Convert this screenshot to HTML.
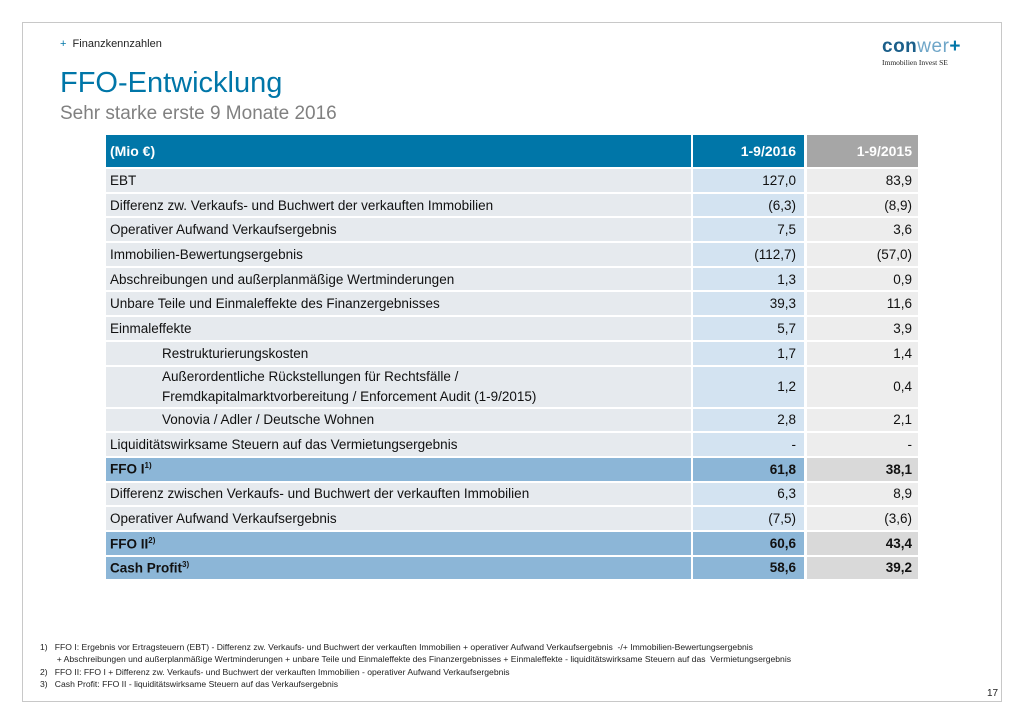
<!DOCTYPE html>
<html><head><meta charset="utf-8"><style>
body{margin:0;width:1024px;height:724px;background:#fff;font-family:"Liberation Sans",sans-serif;position:relative;overflow:hidden}
.frame{position:absolute;left:22px;top:22px;width:978px;height:678px;border:1px solid #c8c8c8}
.abs{position:absolute;white-space:nowrap}
table{position:absolute;left:106px;top:135px;border-collapse:separate;border-spacing:0;font-size:13.5px;color:#111}
td{padding:0 4px;height:22.7px;border-bottom:2px solid #fff;background:#e6eaee}
td.a{background:#d3e3f1;text-align:right;border-left:2px solid #fff;width:99px;padding-right:8px}
td.b{background:#ededed;text-align:right;border-left:3px solid #fff;width:101px;padding-right:6px}
tr.h td{background:#0076a8;color:#fff;font-weight:bold;height:32px;font-size:14px}
tr.h td.b{background:#a6a6a6}
tr.k td{background:#8cb6d7;font-weight:bold}
tr.k td.b{background:#d9d9d9}
td.i{padding-left:56px}
sup{font-size:8px}
.fn{font-size:8.6px;color:#222;line-height:12.3px}
</style></head><body>
<div class="frame"></div>
<div class="abs" style="left:60px;top:38px;font-size:11px;color:#222"><span style="color:#0076a8">+</span>&nbsp; Finanzkennzahlen</div>
<div class="abs" style="left:882px;top:36px;font-size:19px;font-weight:bold;color:#1b5f8a;letter-spacing:0.5px">con<span style="color:#6fa6c8;font-weight:normal">wer</span><span style="color:#0076a8">+</span></div>
<div class="abs" style="left:882px;top:58px;font-size:7.5px;color:#222;font-family:'Liberation Serif',serif">Immobilien Invest SE</div>
<div class="abs" style="left:60px;top:67px;font-size:29px;color:#0076a8">FFO-Entwicklung</div>
<div class="abs" style="left:60px;top:103px;font-size:19px;color:#808080">Sehr starke erste 9 Monate 2016</div>
<table>
<tr class="h"><td style="width:577px">(Mio €)</td><td class="a">1-9/2016</td><td class="b">1-9/2015</td></tr>
<tr><td>EBT</td><td class="a">127,0</td><td class="b">83,9</td></tr>
<tr><td>Differenz zw. Verkaufs- und Buchwert der verkauften Immobilien</td><td class="a">(6,3)</td><td class="b">(8,9)</td></tr>
<tr><td>Operativer Aufwand Verkaufsergebnis</td><td class="a">7,5</td><td class="b">3,6</td></tr>
<tr><td>Immobilien-Bewertungsergebnis</td><td class="a">(112,7)</td><td class="b">(57,0)</td></tr>
<tr><td>Abschreibungen und außerplanmäßige Wertminderungen</td><td class="a">1,3</td><td class="b">0,9</td></tr>
<tr><td>Unbare Teile und Einmaleffekte des Finanzergebnisses</td><td class="a">39,3</td><td class="b">11,6</td></tr>
<tr><td>Einmaleffekte</td><td class="a">5,7</td><td class="b">3,9</td></tr>
<tr><td class="i">Restrukturierungskosten</td><td class="a">1,7</td><td class="b">1,4</td></tr>
<tr><td class="i" style="height:40px;line-height:20px">Außerordentliche Rückstellungen für Rechtsfälle /<br>Fremdkapitalmarktvorbereitung / Enforcement Audit (1-9/2015)</td><td class="a">1,2</td><td class="b">0,4</td></tr>
<tr><td class="i">Vonovia / Adler / Deutsche Wohnen</td><td class="a">2,8</td><td class="b">2,1</td></tr>
<tr><td>Liquiditätswirksame Steuern auf das Vermietungsergebnis</td><td class="a">-</td><td class="b">-</td></tr>
<tr class="k"><td>FFO I<sup>1)</sup></td><td class="a">61,8</td><td class="b">38,1</td></tr>
<tr><td>Differenz zwischen Verkaufs- und Buchwert der verkauften Immobilien</td><td class="a">6,3</td><td class="b">8,9</td></tr>
<tr><td>Operativer Aufwand Verkaufsergebnis</td><td class="a">(7,5)</td><td class="b">(3,6)</td></tr>
<tr class="k"><td>FFO II<sup>2)</sup></td><td class="a">60,6</td><td class="b">43,4</td></tr>
<tr class="k"><td>Cash Profit<sup>3)</sup></td><td class="a">58,6</td><td class="b">39,2</td></tr>
</table>
<div class="abs fn" style="left:40px;top:641px">
1)&nbsp;&nbsp; FFO I: Ergebnis vor Ertragsteuern (EBT) - Differenz zw. Verkaufs- und Buchwert der verkauften Immobilien + operativer Aufwand Verkaufsergebnis &nbsp;-/+ Immobilien-Bewertungsergebnis<br>
&nbsp;&nbsp;&nbsp;&nbsp;&nbsp;&nbsp; + Abschreibungen und außerplanmäßige Wertminderungen + unbare Teile und Einmaleffekte des Finanzergebnisses + Einmaleffekte - liquiditätswirksame Steuern auf das &nbsp;Vermietungsergebnis<br>
2)&nbsp;&nbsp; FFO II: FFO I + Differenz zw. Verkaufs- und Buchwert der verkauften Immobilien - operativer Aufwand Verkaufsergebnis<br>
3)&nbsp;&nbsp; Cash Profit: FFO II - liquiditätswirksame Steuern auf das Verkaufsergebnis</div>
<div class="abs" style="left:987px;top:688px;font-size:10px;color:#222">17</div>
</body></html>
